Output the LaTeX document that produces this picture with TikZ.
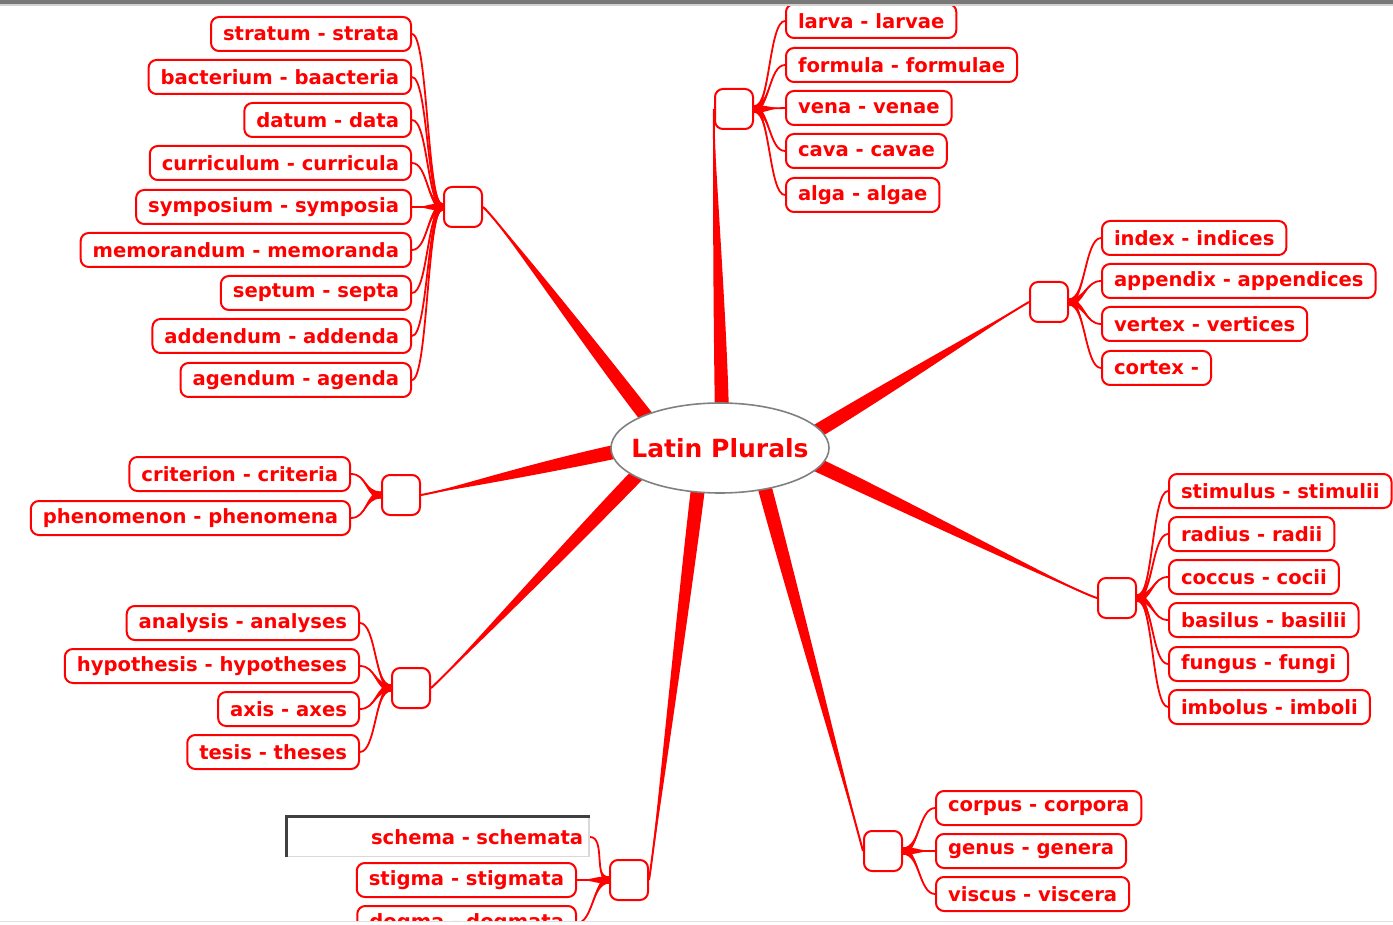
\documentclass[tikz,border=0pt]{standalone}
\usepackage{fontspec}
\setmainfont{DejaVu Sans}
\usepackage{xcolor}
\usepackage{tikz}
\usetikzlibrary{shapes.geometric, calc, backgrounds}
\definecolor{mapred}{RGB}{255,0,0}
\definecolor{rimgray}{RGB}{128,128,128}
\definecolor{framegray}{RGB}{120,120,120}

\tikzset{
  leaf/.style={draw=mapred, line width=1pt, rounded corners=4pt, fill=white, text=mapred,
    font=\fontsize{9.8}{11}\selectfont\bfseries, minimum height=17pt, inner xsep=6pt, inner ysep=0pt},
  hub/.style={draw=mapred, line width=1pt, rounded corners=4pt, fill=white,
    minimum width=19pt, minimum height=20pt, inner sep=0pt},
  editbox/.style={draw=gray!30, line width=0.8pt, fill=white, text=mapred,
    font=\fontsize{9.8}{11}\selectfont\bfseries, text width=145pt, align=right,
    inner xsep=3pt, minimum height=19.5pt},
}

% thick tapered line from the centre to a hub
\newcommand{\branch}[4]{%
  \fill[mapred] ($(#1)!3.5pt!90:(#2)$) .. controls +(#3:50pt) and +(#4:10pt) .. (#2)
    .. controls +(#4:10pt) and +(#3:50pt) .. ($(#1)!3.5pt!-90:(#2)$) -- cycle;
  \draw[mapred, line width=1pt] (#1) .. controls +(#3:50pt) and +(#4:10pt) .. (#2);}
% thin line from a hub to one word pair
\newcommand{\twig}[4]{%
  \fill[mapred] ([yshift=1.8pt]#1) .. controls +(#3:8pt) and +(#4:8pt) .. (#2)
    .. controls +(#4:8pt) and +(#3:8pt) .. ([yshift=-1.8pt]#1) -- cycle;
  \draw[mapred, line width=0.9pt] (#1) .. controls +(#3:8pt) and +(#4:8pt) .. (#2);}

\begin{document}
\begin{tikzpicture}[x=0.5pt, y=0.5pt]
    \useasboundingbox (0,0) rectangle (1393,-925);

    % Centre
    \node[ellipse, draw=rimgray, line width=0.8pt, fill=white, inner xsep=-6pt,
      minimum width=109pt, minimum height=45pt,
      text=mapred, font=\fontsize{12.5}{14}\selectfont\bfseries] (root) at (720,-448) {Latin Plurals};

    % Hubs
    \node[hub] (h1) at (463,-207) {};
    \node[hub] (h2) at (734,-109) {};
    \node[hub] (h3) at (1049,-302) {};
    \node[hub] (h4) at (401,-495) {};
    \node[hub] (h5) at (1117,-598) {};
    \node[hub] (h6) at (411,-688) {};
    \node[hub] (h7) at (883,-851) {};
    \node[hub] (h8) at (629,-880) {};

    % Upper left
    \node[leaf, anchor=east] (a1) at (412,-34) {stratum - strata};
    \node[leaf, anchor=east] (a2) at (412,-77) {bacterium - baacteria};
    \node[leaf, anchor=east] (a3) at (412,-120) {datum - data};
    \node[leaf, anchor=east] (a4) at (412,-163) {curriculum - curricula};
    \node[leaf, anchor=east] (a5) at (412,-207) {symposium - symposia};
    \node[leaf, anchor=east] (a6) at (412,-250) {memorandum - memoranda};
    \node[leaf, anchor=east] (a7) at (412,-293) {septum - septa};
    \node[leaf, anchor=east] (a8) at (412,-336) {addendum - addenda};
    \node[leaf, anchor=east] (a9) at (412,-380) {agendum - agenda};

    % Top
    \node[leaf, anchor=west] (b1) at (785,-21) {larva - larvae};
    \node[leaf, anchor=west] (b2) at (785,-65) {formula - formulae};
    \node[leaf, anchor=west] (b3) at (785,-108) {vena - venae};
    \node[leaf, anchor=west] (b4) at (785,-151) {cava - cavae};
    \node[leaf, anchor=west] (b5) at (785,-195) {alga - algae};

    % Upper right
    \node[leaf, anchor=west] (c1) at (1101,-238) {index - indices};
    \node[leaf, anchor=west] (c2) at (1101,-281) {appendix - appendices};
    \node[leaf, anchor=west] (c3) at (1101,-324) {vertex - vertices};
    \node[leaf, anchor=west] (c4) at (1101,-368) {cortex -};

    % Left
    \node[leaf, anchor=east] (d1) at (351,-474) {criterion - criteria};
    \node[leaf, anchor=east] (d2) at (351,-518) {phenomenon - phenomena};

    % Lower right
    \node[leaf, anchor=west] (e1) at (1168,-491) {stimulus - stimulii};
    \node[leaf, anchor=west] (e2) at (1168,-534) {radius - radii};
    \node[leaf, anchor=west] (e3) at (1168,-577) {coccus - cocii};
    \node[leaf, anchor=west] (e4) at (1168,-620) {basilus - basilii};
    \node[leaf, anchor=west] (e5) at (1168,-664) {fungus - fungi};
    \node[leaf, anchor=west] (e6) at (1168,-707) {imbolus - imboli};

    % Lower left
    \node[leaf, anchor=east] (f1) at (360,-623) {analysis - analyses};
    \node[leaf, anchor=east] (f2) at (360,-666) {hypothesis - hypotheses};
    \node[leaf, anchor=east] (f3) at (360,-709) {axis - axes};
    \node[leaf, anchor=east] (f4) at (360,-752) {tesis - theses};

    % Bottom right
    \node[leaf, anchor=west] (g1) at (935,-808) {corpus - corpora};
    \node[leaf, anchor=west] (g2) at (935,-851) {genus - genera};
    \node[leaf, anchor=west] (g3) at (935,-894) {viscus - viscera};

    % Bottom
    \node[editbox, anchor=east] (k1) at (590,-837) {schema - schemata};
    \draw[darkgray, line width=1.5pt] (k1.south west) -- (k1.north west) -- (k1.north east);
    \node[leaf, anchor=east] (k2) at (577,-880) {stigma - stigmata};
    \node[leaf, anchor=east] (k3) at (577,-923) {dogma - dogmata};

    \begin{scope}[on background layer]
        % Branches
        \coordinate (s1) at (652,-424);
        \coordinate (s2) at (722,-418);
        \coordinate (s3) at (809,-436);
        \coordinate (s4) at (628,-449);
        \coordinate (s5) at (809,-461);
        \coordinate (s6) at (643,-469);
        \coordinate (s7) at (763,-481);
        \coordinate (s8) at (699,-480);
        \branch{s1}{h1.east}{128}{-40}
        \branch{s2}{h2.west}{91}{-95}
        \branch{s3}{h3.west}{31}{210}
        \branch{s4}{h4.east}{192}{10}
        \branch{s5}{h5.west}{-25}{165}
        \branch{s6}{h6.east}{226}{40}
        \branch{s7}{h7.west}{-75}{105}
        \branch{s8}{h8.east}{-97}{80}

        % Twigs
        \twig{h1.west}{a1.east}{180}{0} \twig{h1.west}{a2.east}{180}{0}
        \twig{h1.west}{a3.east}{180}{0} \twig{h1.west}{a4.east}{180}{0}
        \twig{h1.west}{a5.east}{180}{0} \twig{h1.west}{a6.east}{180}{0}
        \twig{h1.west}{a7.east}{180}{0} \twig{h1.west}{a8.east}{180}{0}
        \twig{h1.west}{a9.east}{180}{0}

        \twig{h2.east}{b1.west}{0}{180} \twig{h2.east}{b2.west}{0}{180}
        \twig{h2.east}{b3.west}{0}{180} \twig{h2.east}{b4.west}{0}{180}
        \twig{h2.east}{b5.west}{0}{180}

        \twig{h3.east}{c1.west}{0}{180} \twig{h3.east}{c2.west}{0}{180}
        \twig{h3.east}{c3.west}{0}{180} \twig{h3.east}{c4.west}{0}{180}

        \twig{h4.west}{d1.east}{180}{0} \twig{h4.west}{d2.east}{180}{0}

        \twig{h5.east}{e1.west}{0}{180} \twig{h5.east}{e2.west}{0}{180}
        \twig{h5.east}{e3.west}{0}{180} \twig{h5.east}{e4.west}{0}{180}
        \twig{h5.east}{e5.west}{0}{180} \twig{h5.east}{e6.west}{0}{180}

        \twig{h6.west}{f1.east}{180}{0} \twig{h6.west}{f2.east}{180}{0}
        \twig{h6.west}{f3.east}{180}{0} \twig{h6.west}{f4.east}{180}{0}

        \twig{h7.east}{g1.west}{0}{180} \twig{h7.east}{g2.west}{0}{180}
        \twig{h7.east}{g3.west}{0}{180}

        \twig{h8.west}{k1.east}{180}{0} \twig{h8.west}{k2.east}{180}{0}
        \twig{h8.west}{k3.east}{180}{0}
    \end{scope}

    % Window edges
    \fill[framegray] (0,0) rectangle (1393,-4);
    \fill[gray!35] (0,-4) rectangle (1393,-6);
    \fill[white] (0,-921) rectangle (1393,-925);
    \draw[gray!25, line width=0.5pt] (0,-921.5) -- (1393,-921.5);
\end{tikzpicture}
\end{document}
